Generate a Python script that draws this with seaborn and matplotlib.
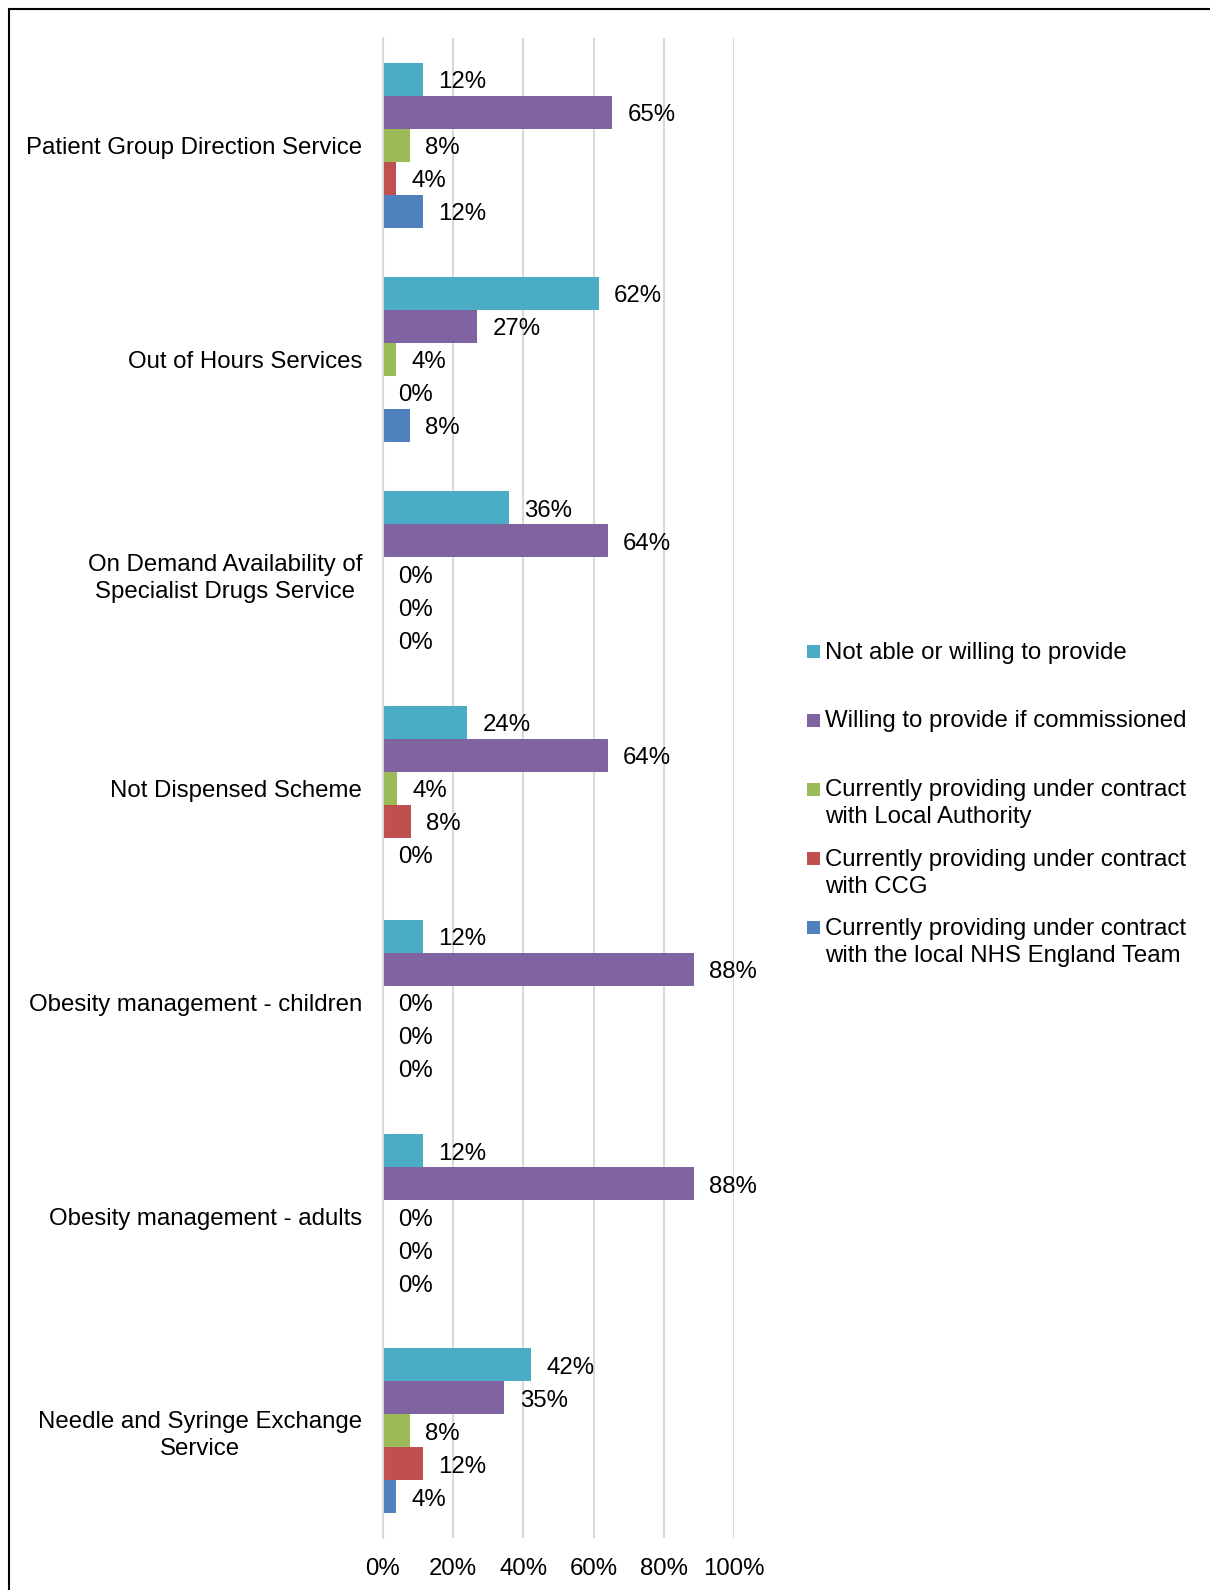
import pandas as pd
import matplotlib.pyplot as plt
import seaborn as sns
from matplotlib.patches import Rectangle

sns.set_theme(style="white")
plt.rcParams['font.family'] = ['Liberation Sans', 'DejaVu Sans']
plt.rcParams['text.color'] = 'black'

FS = 17.3

# 数据
services = [
    "Patient Group Direction Service",
    "Out of Hours Services",
    "On Demand Availability of\nSpecialist Drugs Service",
    "Not Dispensed Scheme",
    "Obesity management - children",
    "Obesity management - adults",
    "Needle and Syringe Exchange\nService",
]
series = [
    "Not able or willing to provide",
    "Willing to provide if commissioned",
    "Currently providing under contract\nwith Local Authority",
    "Currently providing under contract\nwith CCG",
    "Currently providing under contract\nwith the local NHS England Team",
]
colors = ["#4BACC6", "#8064A2", "#9BBB59", "#C0504D", "#4F81BD"]

not_able = [11.5, 61.5, 36.0, 24.0, 11.5, 11.5, 42.3]
willing = [65.4, 26.9, 64.0, 64.0, 88.5, 88.5, 34.6]
local_authority = [7.7, 3.8, 0.0, 4.0, 0.0, 0.0, 7.7]
ccg = [3.8, 0.0, 0.0, 8.0, 0.0, 0.0, 11.5]
nhs_england = [11.5, 7.7, 0.0, 0.0, 0.0, 0.0, 3.8]

values = [not_able, willing, local_authority, ccg, nhs_england]

rows = []
for s, vals in zip(series, values):
    for svc, v in zip(services, vals):
        rows.append({'service': svc, 'status': s, 'value': v})
df = pd.DataFrame(rows)

fig = plt.figure(figsize=(12.1, 15.9), dpi=100)
ax = fig.add_axes([0.3165, 0.0327, 0.290, 0.9434])

sns.barplot(data=df, x='value', y='service', hue='status', hue_order=series,
            order=services, palette=colors, orient='h', width=0.77,
            saturation=1, linewidth=0, legend=False, ax=ax)

# 数值标签
for cont, vals in zip(ax.containers, values):
    anns = ax.bar_label(cont, labels=[f"{v:.0f}%" for v in vals], padding=11,
                        fontsize=FS, color='black')
    for a in anns:
        a.xyann = (11, -2.2)

ax.set_xlim(0, 100)
ax.set_ylim(len(services) - 0.5, -0.5)
ax.set_xticks(range(0, 101, 20))
ax.set_xticklabels([f"{t}%" for t in range(0, 101, 20)])
ax.xaxis.grid(True, color='#D9D9D9', linewidth=1.5)
ax.yaxis.grid(False)
ax.set_axisbelow(True)
for side in ['top', 'right', 'bottom']:
    ax.spines[side].set_visible(False)
ax.spines['left'].set_color('#D9D9D9')
ax.spines['left'].set_linewidth(1.5)
ax.tick_params(axis='x', length=0, pad=14.5, labelsize=FS, labelcolor='black')
ax.tick_params(axis='y', length=0, pad=15, labelsize=FS, labelcolor='black')
for t in ax.get_yticklabels():
    t.set_multialignment('center')
    t.set_linespacing(1.3)
ax.set_xlabel('')
ax.set_ylabel('')

# 图例（手动）
leg_y = [651.7, 720.0, 789.0, 858.7, 927.7]
for s, c, y in zip(series, colors, leg_y):
    fig.patches.append(Rectangle((806.5 / 1210, 1 - (y + 6.5) / 1590), 13 / 1210, 13 / 1590,
                                 transform=fig.transFigure, facecolor=c, edgecolor='none'))
    fig.text(825 / 1210, 1 - (y - 10) / 1590, s, fontsize=FS, va='top', ha='left',
             linespacing=1.3, color='black')

# 外框
fig.patches.append(Rectangle((9 / 1210, -0.02), 1.05, 1 - 8.5 / 1590 + 0.02,
                             transform=fig.transFigure, fill=False,
                             edgecolor='black', linewidth=1.5))

fig.savefig('out.png', dpi=100)
plt.close(fig)
